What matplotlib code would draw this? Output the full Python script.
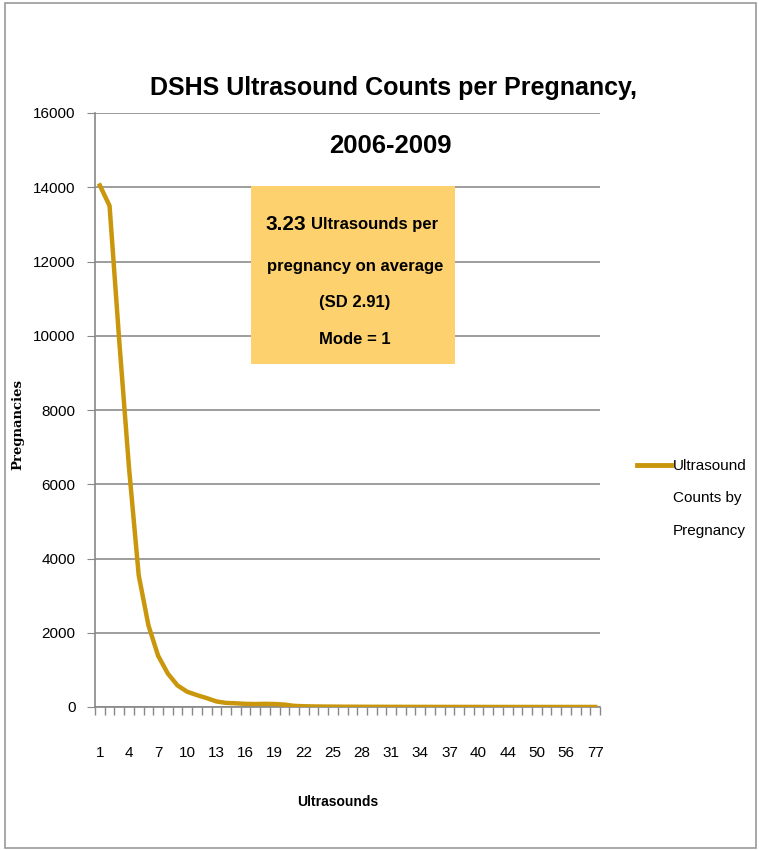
import numpy as np
import matplotlib
matplotlib.use("Agg")
from matplotlib import pyplot as plt
from matplotlib.lines import Line2D
from matplotlib.patches import Rectangle

plt.rcParams["font.family"] = ["Liberation Sans", "DejaVu Sans"]

# 초음파 횟수(범주)와 임신 건수
ultrasounds = list(range(1, 41)) + [41, 42, 44, 45, 47, 50, 52, 54, 56, 60, 66, 77]
pregnancies = [14050, 13500, 9850, 6450, 3550, 2200, 1380, 900, 580, 410,
               320, 240, 150, 110, 100, 85, 80, 85, 80, 65,
               30, 20, 15, 12, 10, 8, 7, 6, 5, 5,
               4, 4, 3, 3, 3, 2, 2, 2, 2, 2,
               1, 1, 1, 1, 1, 1, 1, 1, 1, 1, 1, 1]
series_name = "Ultrasound\nCounts by\nPregnancy"
y_ticks = [0, 2000, 4000, 6000, 8000, 10000, 12000, 14000, 16000]

line_color = "#C9960C"
box_color = "#FDD26E"
W, H = 759, 850

fig = plt.figure(figsize=(W / 100, H / 100), dpi=100)
ax = fig.add_axes([95 / W, 1 - 707 / H, (600 - 95) / W, (707 - 113) / H])

x = np.arange(len(ultrasounds))
ax.plot(x, pregnancies, color=line_color, lw=3.2, solid_joinstyle="round", zorder=3)

ax.set_xlim(-0.5, len(ultrasounds) - 0.5)
ax.set_ylim(0, 16000)
ax.set_yticks(y_ticks)
ax.set_yticklabels([str(v) for v in y_ticks], fontsize=11)
ax.set_xticks(x[::3])
ax.set_xticklabels([str(u) for u in ultrasounds[::3]], fontsize=11)
ax.set_xticks(np.arange(-0.5, len(ultrasounds)), minor=True)
ax.tick_params(axis="x", which="major", length=0, pad=28)
ax.tick_params(axis="x", which="minor", length=6, color="#888888", width=1)
ax.tick_params(axis="y", length=6, color="#888888", pad=8)

ax.grid(axis="y", color="#8c8c8c", lw=1.2)
ax.set_axisbelow(True)
for s in ["top", "right"]:
    ax.spines[s].set_visible(False)
for s in ["left", "bottom"]:
    ax.spines[s].set_color("#888888")
    ax.spines[s].set_linewidth(1.2)

ax.set_ylabel("Pregnancies", fontsize=9.5, fontweight="bold", family="DejaVu Serif")
ax.yaxis.set_label_coords(-0.14, 0.475)
ax.set_xlabel("Ultrasounds", fontsize=10, fontweight="bold")
ax.xaxis.set_label_coords(0.48, -0.148)

# 제목
fig.text(393 / W, 1 - 88 / H, "DSHS Ultrasound Counts per Pregnancy,", ha="center", va="center",
         fontsize=18, fontweight="bold")
fig.text(390 / W, 1 - 146 / H, "2006-2009", ha="center", va="center", fontsize=18.5, fontweight="bold")

# 요약 상자
fig.add_artist(Rectangle((251 / W, 1 - 364 / H), (455 - 251) / W, (364 - 186) / H,
                         transform=fig.transFigure, facecolor=box_color, edgecolor="none", zorder=5))
fig.text(306 / W, 1 - 224 / H, "3.23", ha="right", va="center", fontsize=15, fontweight="bold", zorder=6)
fig.text(311 / W, 1 - 225 / H, "Ultrasounds per", ha="left", va="center", fontsize=12, fontweight="bold", zorder=6)
fig.text(355 / W, 1 - 266 / H, "pregnancy on average", ha="center", va="center", fontsize=12, fontweight="bold", zorder=6)
fig.text(355 / W, 1 - 302 / H, "(SD 2.91)", ha="center", va="center", fontsize=12, fontweight="bold", zorder=6)
fig.text(355 / W, 1 - 340 / H, "Mode = 1", ha="center", va="center", fontsize=12, fontweight="bold", zorder=6)

# 범례
fig.add_artist(Line2D([637 / W, 671 / W], [1 - 465 / H, 1 - 465 / H], color=line_color, lw=3.5,
                      transform=fig.transFigure))
for i, line in enumerate(series_name.split("\n")):
    fig.text(673 / W, 1 - (466 + 32.5 * i) / H, line, ha="left", va="center", fontsize=11)

# 바깥 테두리
fig.add_artist(Rectangle((5 / W, 2 / H), (W - 8) / W, (H - 5) / H, transform=fig.transFigure,
                         facecolor="none", edgecolor="#9a9a9a", lw=1.2))

fig.savefig("out.png", dpi=100)
